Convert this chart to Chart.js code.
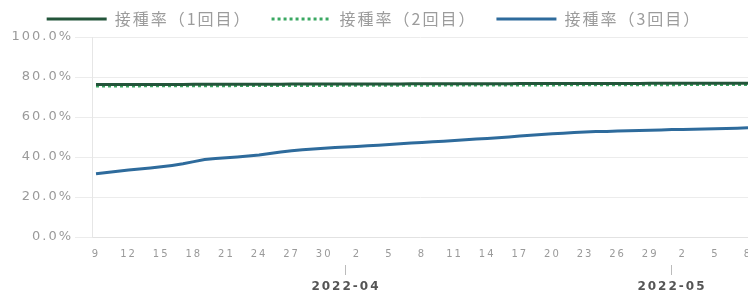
<!DOCTYPE html>
<html lang="ja">
<head>
    <meta charset="UTF-8" />
    <title>接種率</title>
    <style>
        html, body {
            margin: 0;
            padding: 0;
            background: #fff;
        }
        #chart-container {
            width: 748px;
            height: 291px;
        }
    </style>
    <script src="https://cdn.jsdelivr.net/npm/chart.js"></script>
</head>
<body>
<div id="chart-container">
    <canvas id="rateChart"></canvas>
</div>

<script>
  const dates = [
    "2022-03-09", "2022-03-10", "2022-03-11", "2022-03-12", "2022-03-13", "2022-03-14", "2022-03-15", "2022-03-16",
    "2022-03-17", "2022-03-18", "2022-03-19", "2022-03-20", "2022-03-21", "2022-03-22", "2022-03-23", "2022-03-24",
    "2022-03-25", "2022-03-26", "2022-03-27", "2022-03-28", "2022-03-29", "2022-03-30", "2022-03-31",
    "2022-04-01", "2022-04-02", "2022-04-03", "2022-04-04", "2022-04-05", "2022-04-06", "2022-04-07", "2022-04-08",
    "2022-04-09", "2022-04-10", "2022-04-11", "2022-04-12", "2022-04-13", "2022-04-14", "2022-04-15", "2022-04-16",
    "2022-04-17", "2022-04-18", "2022-04-19", "2022-04-20", "2022-04-21", "2022-04-22", "2022-04-23", "2022-04-24",
    "2022-04-25", "2022-04-26", "2022-04-27", "2022-04-28", "2022-04-29", "2022-04-30",
    "2022-05-01", "2022-05-02", "2022-05-03", "2022-05-04", "2022-05-05", "2022-05-06", "2022-05-07", "2022-05-08"
  ];

  const seriesNames = ["接種率（1回目）", "接種率（2回目）", "接種率（3回目）"];

  const dose1 = [
    76.20, 76.22, 76.23, 76.25, 76.26, 76.27, 76.29, 76.30, 76.31, 76.33,
    76.34, 76.35, 76.36, 76.38, 76.39, 76.40, 76.41, 76.43, 76.44, 76.45,
    76.46, 76.48, 76.49, 76.50, 76.51, 76.53, 76.54, 76.55, 76.56, 76.58,
    76.59, 76.60, 76.61, 76.62, 76.64, 76.65, 76.66, 76.67, 76.68, 76.69,
    76.71, 76.72, 76.73, 76.74, 76.75, 76.76, 76.77, 76.78, 76.79, 76.80,
    76.81, 76.82, 76.83, 76.84, 76.85, 76.86, 76.87, 76.87, 76.88, 76.89, 76.90
  ];

  const dose2 = [
    75.50, 75.52, 75.53, 75.55, 75.56, 75.58, 75.59, 75.61, 75.62, 75.64,
    75.65, 75.67, 75.68, 75.69, 75.71, 75.72, 75.73, 75.75, 75.76, 75.77,
    75.79, 75.80, 75.81, 75.83, 75.84, 75.85, 75.87, 75.88, 75.89, 75.90,
    75.92, 75.93, 75.94, 75.95, 75.97, 75.98, 75.99, 76.00, 76.01, 76.03,
    76.04, 76.05, 76.06, 76.07, 76.08, 76.09, 76.11, 76.12, 76.13, 76.14,
    76.15, 76.16, 76.17, 76.18, 76.19, 76.20, 76.22, 76.23, 76.25, 76.27, 76.30
  ];

  const dose3 = [
    31.6, 32.2, 32.9, 33.5, 34.0, 34.5, 35.1, 35.8, 36.6, 37.7,
    38.7, 39.2, 39.6, 40.0, 40.5, 41.0, 41.7, 42.5, 43.1, 43.6,
    44.0, 44.4, 44.7, 45.0, 45.3, 45.6, 45.9, 46.3, 46.6, 47.0,
    47.3, 47.6, 47.9, 48.2, 48.6, 49.0, 49.3, 49.6, 50.0, 50.5,
    50.9, 51.3, 51.6, 51.9, 52.3, 52.5, 52.7, 52.8, 53.0, 53.1,
    53.3, 53.4, 53.5, 53.7, 53.8, 53.9, 54.0, 54.1, 54.2, 54.4, 54.6
  ];

  const yTicks = [0, 20, 40, 60, 80, 100];
  const monthLabels = ["2022-04", "2022-05"];

  // day ticks every 3 days, month ticks at the 1st
  const dayTickIdx = dates.map((d, i) => i).filter((i) => i % 3 === 0);
  const monthTickIdx = monthLabels.map((m) => dates.indexOf(m + "-01"));

  const toPoints = (arr) => arr.map((v, i) => ({ x: i, y: v }));

  const xMin = -0.37;
  const xMax = dates.length - 1;

  const spacing = {
    id: "spacing",
    beforeUpdate(chart) { chart.ctx.letterSpacing = "2px"; },
    beforeDraw(chart) { chart.ctx.letterSpacing = "2px"; },
  };

  Chart.defaults.font.family = "'DejaVu Sans', sans-serif";

  const ctx = document.getElementById("rateChart").getContext("2d");
  new Chart(ctx, {
    type: "line",
    data: {
      datasets: [
        {
          label: seriesNames[0],
          data: toPoints(dose1),
          borderColor: "#23553a",
          backgroundColor: "#23553a",
          borderWidth: 3,
          pointRadius: 0,
        },
        {
          label: seriesNames[1],
          data: toPoints(dose2),
          borderColor: "#3aa862",
          backgroundColor: "#3aa862",
          borderWidth: 3,
          borderDash: [3, 3],
          pointRadius: 0,
        },
        {
          label: seriesNames[2],
          data: toPoints(dose3),
          borderColor: "#2e6b9c",
          backgroundColor: "#2e6b9c",
          borderWidth: 3,
          pointRadius: 0,
        },
      ],
    },
    options: {
      responsive: true,
      maintainAspectRatio: false,
      animation: false,
      layout: { padding: { top: -9 } },
      scales: {
        x: {
          type: "linear",
          position: "bottom",
          weight: 0,
          min: xMin,
          max: xMax,
          afterBuildTicks: (s) => { s.ticks = dayTickIdx.map((v) => ({ value: v })); },
          afterFit: (s) => { s.height = 28; s.paddingLeft = 0; s.paddingRight = 0; },
          grid: { display: false, drawTicks: false },
          border: { display: true, color: "#e2e2e2" },
          ticks: {
            maxRotation: 0,
            autoSkip: false,
            padding: 11,
            color: "#9a9a9a",
            font: { size: 10 },
            callback: (v) => String(Number(dates[v].slice(8))),
          },
        },
        x2: {
          type: "linear",
          position: "bottom",
          weight: 1,
          min: xMin,
          max: xMax,
          afterBuildTicks: (s) => { s.ticks = monthTickIdx.map((v) => ({ value: v })); },
          afterFit: (s) => { s.height = 26; s.paddingLeft = 0; s.paddingRight = 0; },
          grid: { display: true, drawOnChartArea: false, drawTicks: true, tickLength: 10, color: "#bbbbbb" },
          border: { display: false },
          ticks: {
            maxRotation: 0,
            autoSkip: false,
            padding: 5,
            color: "#555",
            font: { size: 12, weight: "bold" },
            callback: (v) => monthLabels[monthTickIdx.indexOf(v)],
          },
        },
        y: {
          min: 0,
          max: 100,
          afterBuildTicks: (s) => { s.ticks = yTicks.map((v) => ({ value: v })); },
          afterFit: (s) => { s.width = 92; },
          grid: { color: "#ececec", tickLength: 17, drawTicks: true },
          border: { display: true, color: "#e6e6e6" },
          ticks: {
            padding: 2,
            color: "#9a9a9a",
            font: { size: 13 },
            callback: (v) => v.toFixed(1) + "%",
          },
        },
      },
      plugins: {
        legend: {
          position: "top",
          labels: {
            usePointStyle: true,
            pointStyle: "line",
            pointStyleWidth: 60,
            padding: 20,
            color: "#9c9c9c",
            font: { family: "'Noto Sans CJK JP', sans-serif", size: 16 },
            generateLabels: (chart) => {
              const items = Chart.defaults.plugins.legend.labels.generateLabels(chart);
              items.forEach((it) => {
                const ds = chart.data.datasets[it.datasetIndex];
                it.lineDash = ds.borderDash || [];
                it.lineWidth = ds.borderWidth;
                it.strokeStyle = ds.borderColor;
              });
              return items;
            },
          },
        },
        tooltip: { enabled: false },
      },
    },
    plugins: [spacing],
  });
</script>
</body>
</html>
